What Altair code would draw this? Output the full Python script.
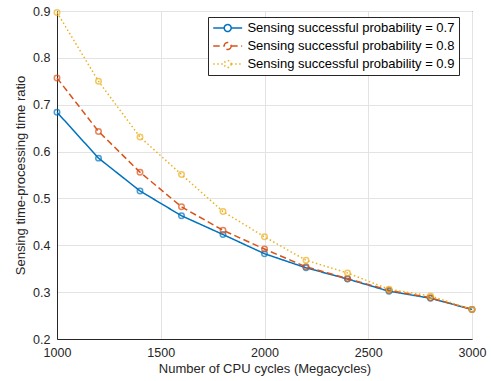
import altair as alt
import pandas as pd

cpu_cycles = [1000, 1200, 1400, 1600, 1800, 2000, 2200, 2400, 2600, 2800, 3000]
ratio_p07 = [0.684, 0.586, 0.516, 0.463, 0.423, 0.382, 0.352, 0.328, 0.302, 0.287, 0.263]
ratio_p08 = [0.757, 0.643, 0.556, 0.482, 0.432, 0.392, 0.354, 0.329, 0.304, 0.288, 0.263]
ratio_p09 = [0.897, 0.750, 0.631, 0.551, 0.472, 0.418, 0.368, 0.341, 0.306, 0.292, 0.263]
series_names = [
    "Sensing successful probability = 0.7",
    "Sensing successful probability = 0.8",
    "Sensing successful probability = 0.9",
]
colors = ["#0072BD", "#D95319", "#EDB120"]
dashes = [[1, 0], [6.5, 3.5], [1.5, 2.5]]

rows = []
for name, vals in zip(series_names, [ratio_p07, ratio_p08, ratio_p09]):
    for x, y in zip(cpu_cycles, vals):
        rows.append({"cycles": x, "ratio": y, "series": name})
df = pd.DataFrame(rows)

FONT = "Liberation Sans"
TXT = "#262626"

x_enc = alt.X(
    "cycles:Q",
    scale=alt.Scale(domain=[1000, 3000], nice=False, zero=False),
    axis=alt.Axis(values=[1000, 1500, 2000, 2500, 3000], title="Number of CPU cycles (Megacycles)",
                  format="d", labelPadding=7, titlePadding=4, labelFlush=False),
)
y_enc = alt.Y(
    "ratio:Q",
    scale=alt.Scale(domain=[0.2, 0.9], nice=False, zero=False),
    axis=alt.Axis(values=[0.2, 0.3, 0.4, 0.5, 0.6, 0.7, 0.8, 0.9], format=".1f",
                  title="Sensing time-processing time ratio", labelPadding=7, titlePadding=5,
                  labelFlush=False),
)
color_scale = alt.Scale(domain=series_names, range=colors)

legend_symbol = ("M-2.5,0L-0.6,0M0.6,0L2.5,0"
                 "M0.6,0A0.6,0.6 0 1,1 -0.6,0A0.6,0.6 0 1,1 0.6,0")

lines = alt.Chart(df).mark_line(strokeWidth=1.5, strokeCap="butt").encode(
    x=x_enc,
    y=y_enc,
    color=alt.Color("series:N", scale=color_scale, sort=series_names,
                    legend=alt.Legend(title=None, orient="none", legendX=151, legendY=6,
                                      symbolType=legend_symbol, symbolSize=134,
                                      symbolStrokeWidth=1.5, symbolFillColor="white",
                                      symbolOffset=8.7, labelOffset=12.7,
                                      labelFontSize=13, labelFont=FONT, labelColor="black",
                                      padding=4, rowPadding=4, labelLimit=400,
                                      strokeColor="#262626", fillColor="white")),
    strokeDash=alt.StrokeDash("series:N", scale=alt.Scale(domain=series_names, range=dashes),
                              sort=series_names, legend=None),
    order=alt.Order("cycles:Q"),
)

points = alt.Chart(df).mark_point(shape="circle", filled=False, size=30, strokeWidth=1.5).encode(
    x=x_enc,
    y=y_enc,
    color=alt.Color("series:N", scale=color_scale, sort=series_names, legend=None),
)

chart = alt.layer(lines, points).properties(
    width=415,
    height=328,
    autosize=alt.AutoSizeParams(type="none"),
    padding={"left": 57, "top": 11, "right": 19, "bottom": 42},
    background="white",
).configure_view(
    stroke="#262626", strokeWidth=1
).configure_axis(
    labelFont=FONT, titleFont=FONT, labelFontSize=12.5, titleFontSize=13,
    labelColor=TXT, titleColor=TXT, titleFontWeight="normal",
    domainColor="#262626", tickColor="#262626", tickSize=0,
    gridColor="#e3e3e3", gridWidth=1,
)

chart.save("out.html", embed_options={"renderer": "svg", "actions": False})
